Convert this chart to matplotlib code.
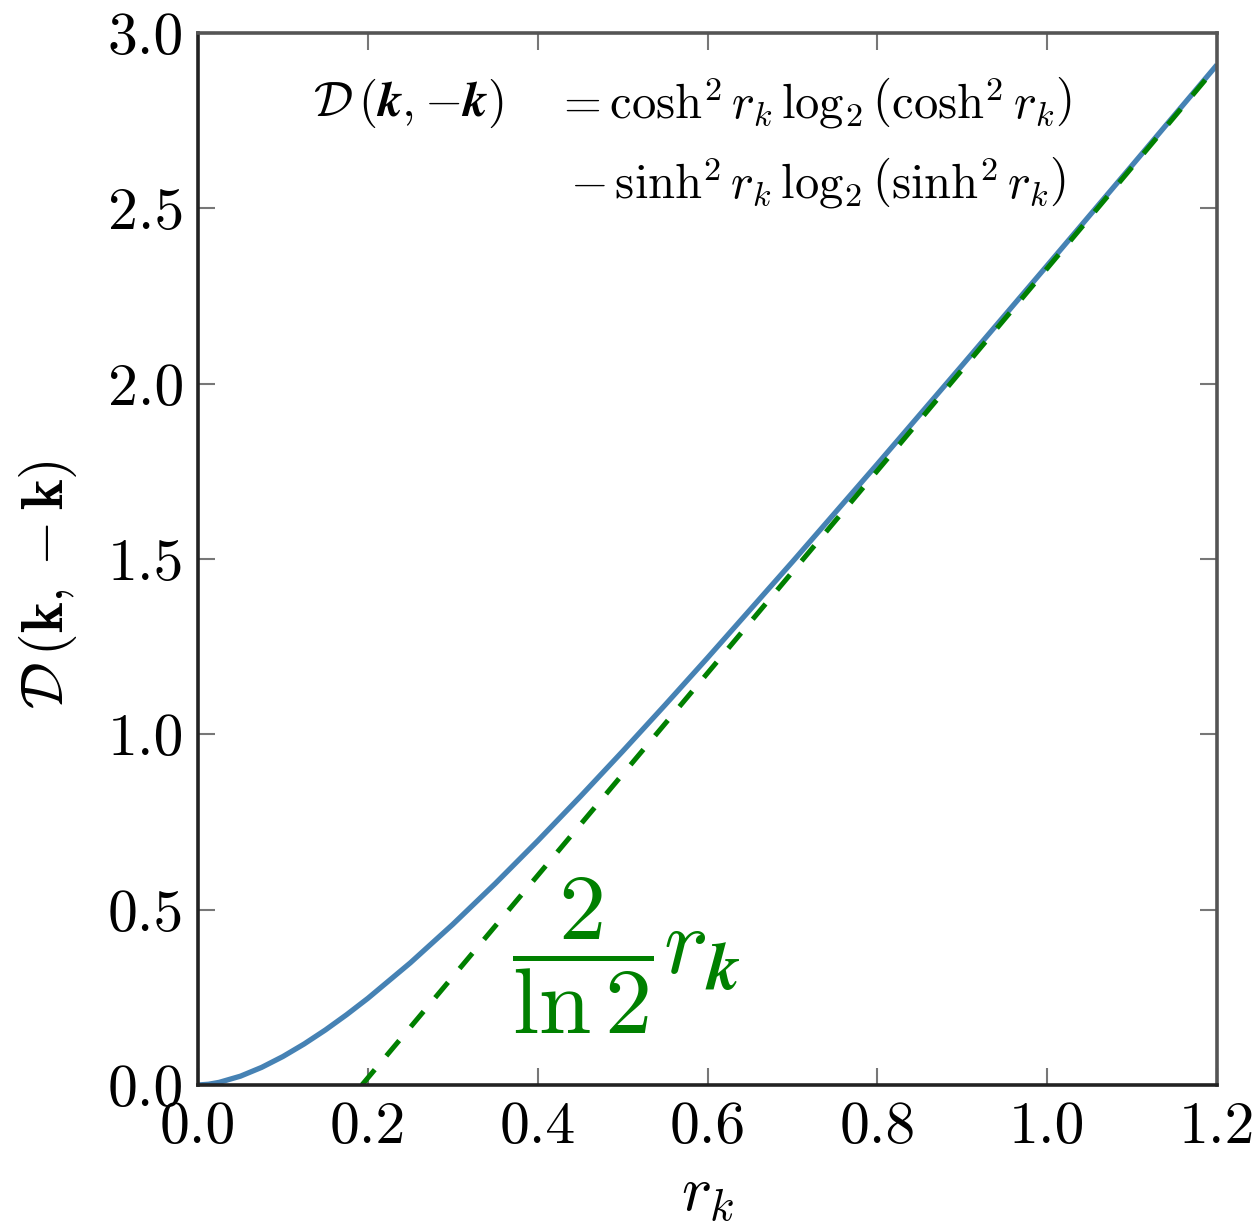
import matplotlib
matplotlib.use("Agg")
import matplotlib.pyplot as plt

plt.rcParams['font.family'] = ['cmr10', 'DejaVu Serif']
plt.rcParams['mathtext.fontset'] = 'cm'
plt.rcParams['axes.formatter.use_mathtext'] = True

# Exact curve D(r_k), read at sample points
r_vals = [0.0, 0.0125, 0.025, 0.05, 0.075, 0.1, 0.125, 0.15, 0.175, 0.2, 0.25, 0.3,
          0.35, 0.4, 0.45, 0.5, 0.55, 0.6, 0.7, 0.8, 0.9, 1.0, 1.1, 1.2]
d_vals = [0.0, 0.0022, 0.0076, 0.0252, 0.0503, 0.0812, 0.1170, 0.1569, 0.2005,
          0.2471, 0.3483, 0.4580, 0.5743, 0.6960, 0.8220, 0.9514, 1.0836, 1.2180,
          1.4919, 1.7707, 2.0527, 2.3369, 2.6225, 2.9093]

# Asymptotic line (2/ln2) r_k - const
asym_r = [0.193, 1.2]
asym_d = [0.0, 2.906]

x_ticks = [0.0, 0.2, 0.4, 0.6, 0.8, 1.0, 1.2]
y_ticks = [0.0, 0.5, 1.0, 1.5, 2.0, 2.5, 3.0]

W, H = 1259, 1222
fig = plt.figure(figsize=(W / 100, H / 100), dpi=100)
ax = fig.add_axes([198 / W, 1 - 1085 / H, (1217 - 198) / W, (1085 - 33) / H])

ax.plot(r_vals, d_vals, color='#4682B4', lw=3.8, solid_capstyle='butt')
ax.plot(asym_r, asym_d, color='green', lw=3.6, ls=(0, (4.0, 3.6)))

ax.set_xlim(0, 1.2)
ax.set_ylim(0, 3.0)
ax.set_xticks(x_ticks)
ax.set_yticks(y_ticks)
ax.set_xticklabels([f"{v:.1f}" for v in x_ticks])
ax.set_yticklabels([f"{v:.1f}" for v in y_ticks])
ax.tick_params(direction='in', top=True, right=True, length=12, width=1.5,
               color='#777777', labelsize=43)
ax.tick_params(axis='x', pad=12)
ax.tick_params(axis='y', pad=10)
for name, s in ax.spines.items():
    s.set_color('#222222' if name in ('left', 'bottom') else '#555555')
    s.set_linewidth(2.6)

ax.set_xlabel(r'$r_k$', fontsize=46, labelpad=8)
ax.set_ylabel(r'$\mathcal{D}\,(\mathbf{k},-\mathbf{k})$', fontsize=42)
ax.yaxis.set_label_coords(-0.117, 0.476)

def fx(px):
    return px / W

def fy(py):
    return 1 - py / H

fig.text(fx(313), fy(103), r'$\mathcal{D}\,(\boldsymbol{k},{-}\boldsymbol{k})$',
         fontsize=35.5, va='center', ha='left')
fig.text(fx(555), fy(103),
         r'$=\cosh^2 r_k\,\log_2\left(\cosh^2 r_k\right)$',
         fontsize=35, va='center', ha='left')
fig.text(fx(1066), fy(183),
         r'$-\,\sinh^2 r_k\,\log_2\left(\sinh^2 r_k\right)$',
         fontsize=35, va='center', ha='right')

fig.text(fx(512), fy(956), r'$\dfrac{2}{\ln 2}r_{\boldsymbol{k}}$',
         fontsize=68, color='green', va='center', ha='left')

fig.savefig('out.png', dpi=100)
